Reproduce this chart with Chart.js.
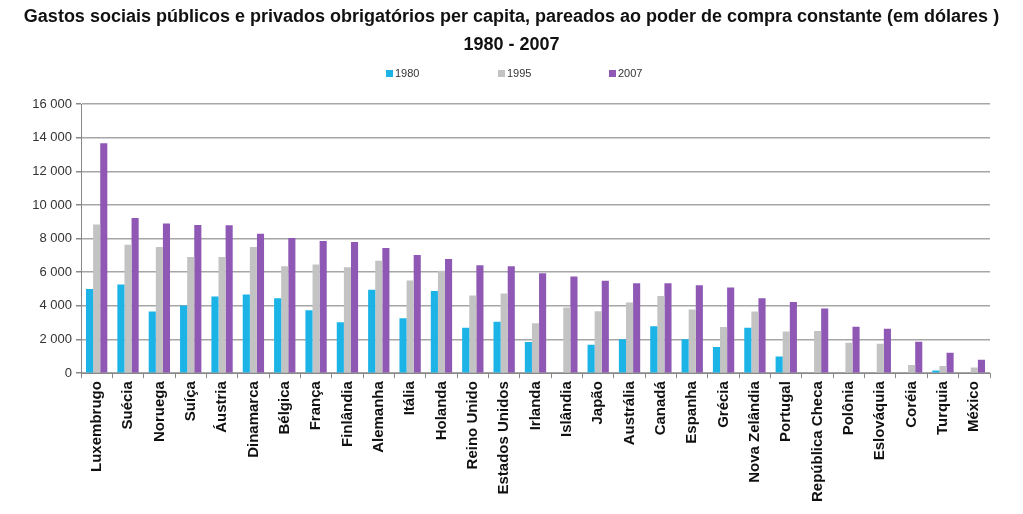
<!DOCTYPE html>
<html>
<head>
<meta charset="utf-8">
<script src="https://cdn.jsdelivr.net/npm/chart.js@4/dist/chart.umd.min.js"></script>
<style>
  html, body { margin: 0; padding: 0; background: #fff; }
  #wrap { width: 1023px; height: 514px; position: relative; }
  .title { position: absolute; top: 2px; left: 0; width: 1023px; text-align: center;
           font: bold 18px/28px "Liberation Sans", Arial, sans-serif; color: #111; white-space: nowrap; }
  .legend { position: absolute; top: 66px; left: 0; width: 1023px; height: 14px;
            font: 11px "Liberation Sans", Arial, sans-serif; color: #333; }
  .legend span.item { position: absolute; top: 0; white-space: nowrap; line-height: 14px; }
  .legend i { display: inline-block; width: 7px; height: 7px; margin-right: 2px; vertical-align: 0px; }
</style>
</head>
<body>
<div id="wrap">
  <canvas id="chart"></canvas>
  <div class="title">Gastos sociais públicos e privados obrigatórios per capita, pareados ao poder de compra constante (em dólares )<br>1980 - 2007</div>
  <div class="legend" id="legend"></div>
</div>
<script>
// Países (categorias do eixo X)
const countries = [
  "Luxembrugo", "Suécia", "Noruega", "Suíça", "Áustria", "Dinamarca", "Bélgica",
  "França", "Finlândia", "Alemanha", "Itália", "Holanda", "Reino Unido",
  "Estados Unidos", "Irlanda", "Islândia", "Japão", "Austrália", "Canadá",
  "Espanha", "Grécia", "Nova Zelândia", "Portugal", "República Checa",
  "Polônia", "Eslováquia", "Coréia", "Turquia", "México"
];

// Valores por ano (null = sem dado)
const values1980 = [
  5000, 5270, 3660, 4020, 4550, 4670, 4450, 3740, 3020, 4950, 3260, 4890, 2700,
  3060, 1850, null, 1690, 2010, 2780, 2010, 1550, 2700, 990, null,
  null, null, null, 160, null
];
const values1995 = [
  8830, 7630, 7500, 6900, 6900, 7500, 6360, 6460, 6300, 6680, 5510, 6080, 4610,
  4730, 2960, 3900, 3680, 4200, 4590, 3780, 2740, 3660, 2470, 2500,
  1810, 1750, 480, 420, 340
];
const values2007 = [
  13660, 9220, 8890, 8810, 8790, 8290, 8030, 7850, 7790, 7440, 7020, 6780, 6420,
  6360, 5940, 5750, 5490, 5350, 5350, 5230, 5090, 4450, 4230, 3840,
  2760, 2640, 1870, 1210, 800
];

const seriesLabels = ["1980", "1995", "2007"];
const seriesColors = ["#1CB3E6", "#C3C3C3", "#8E58B4"];
const yTicks = [0, 2000, 4000, 6000, 8000, 10000, 12000, 14000, 16000];

// Legenda em HTML (o espaçamento largo não dá com a legenda do Chart.js)
const legendX = [386, 498, 609];
const legend = document.getElementById("legend");
legend.innerHTML = seriesLabels
  .map(
    (lbl, i) =>
      `<span class="item" style="left:${legendX[i]}px"><i style="background:${seriesColors[i]}"></i>${lbl}</span>`
  )
  .join("");

const ctx = document.getElementById("chart").getContext("2d");
const chart = new Chart(ctx, {
  type: "bar",
  data: {
    labels: countries,
    datasets: [
      { label: seriesLabels[0], data: values1980, backgroundColor: seriesColors[0] },
      { label: seriesLabels[1], data: values1995, backgroundColor: seriesColors[1] },
      { label: seriesLabels[2], data: values2007, backgroundColor: seriesColors[2] },
    ],
  },
  options: {
    responsive: true,
    maintainAspectRatio: false,
    animation: false,
    datasets: { bar: { categoryPercentage: 0.68, barPercentage: 1.0 } },
    layout: { padding: { left: 4, right: 33, top: 104, bottom: 9 } },
    plugins: {
      title: { display: false },
      legend: { display: false },
      tooltip: { enabled: false },
    },
    scales: {
      x: {
        grid: {
          display: true,
          drawOnChartArea: false,
          drawTicks: true,
          tickLength: 5,
          color: "#888",
          offset: true,
        },
        border: { color: "#888", width: 1 },
        ticks: {
          autoSkip: false,
          minRotation: 90,
          maxRotation: 90,
          color: "#111",
          padding: 3,
          font: { family: "Liberation Sans, Arial, sans-serif", size: 15, weight: "bold" },
        },
      },
      y: {
        min: 0,
        max: 16000,
        afterBuildTicks: (axis) => {
          axis.ticks = yTicks.map((v) => ({ value: v }));
        },
        afterFit: (axis) => {
          axis.width = 77;
        },
        grid: {
          color: "#A6A6A6",
          lineWidth: 1.5,
          tickLength: 5,
          tickColor: "#888",
        },
        border: { color: "#888", width: 1 },
        ticks: {
          color: "#333",
          padding: 4,
          font: { family: "Liberation Sans, Arial, sans-serif", size: 13 },
          callback: (v) => String(v).replace(/\B(?=(\d{3})+(?!\d))/g, " "),
        },
      },
    },
  },
});
</script>
</body>
</html>
